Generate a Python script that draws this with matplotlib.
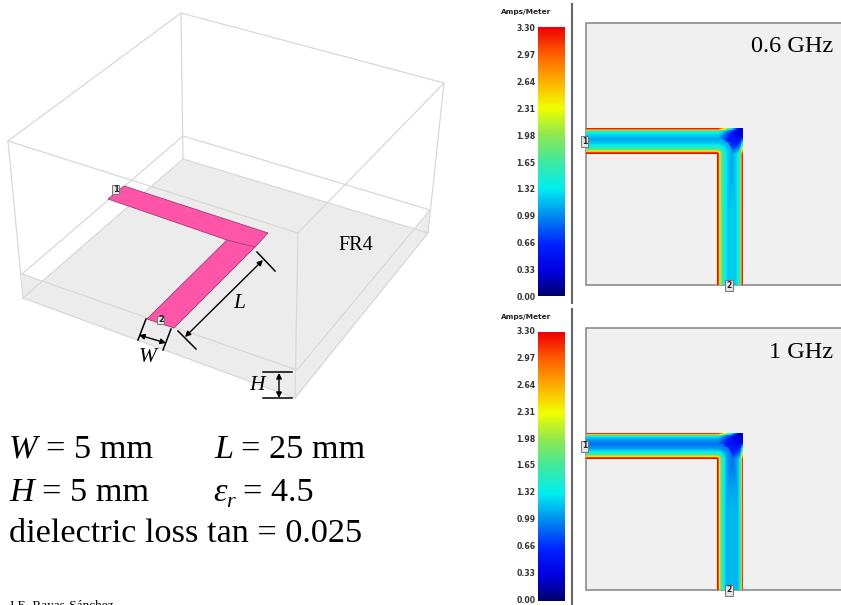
import numpy as np
import matplotlib
matplotlib.use("Agg")
import matplotlib.pyplot as plt
from matplotlib.colors import LinearSegmentedColormap

plt.rcParams['font.family'] = ['Liberation Serif', 'DejaVu Serif']

# colour scale
scale_labels = ["3.30", "2.97", "2.64", "2.31", "1.98", "1.65", "1.32", "0.99", "0.66", "0.33", "0.00"]
scale_max = 3.30
cmap_values = [0.0, 0.30, 0.62, 1.00, 1.32, 1.65, 1.98, 2.31, 2.64, 2.97, 3.30]
cmap_colors = ["#000070", "#0000e0", "#0020ff", "#0090f0", "#00f0f0", "#40e8a0",
               "#90e850", "#f0ff00", "#ffb000", "#ff6000", "#f00000"]

# current near the strip edges against distance from the edge (Amps/Meter)
edge_dist = [0.00, 0.05, 0.09, 0.15, 0.25, 0.40, 0.60]
outer_06 = [3.30, 3.05, 1.90, 1.45, 1.25, 1.10, 1.05]
inner_06 = [3.30, 3.20, 2.60, 1.90, 1.50, 1.22, 1.05]
outer_10 = [3.30, 2.80, 1.60, 1.25, 1.05, 0.90, 0.86]
inner_10 = [3.30, 3.20, 2.50, 1.80, 1.38, 1.05, 0.86]

# middle of each arm, far from the bend
centre_h = [1.05, 0.86]
centre_v = [1.20, 1.14]

# middle of the strip against distance from the outer corner
bend_r = [0.00, 0.30, 0.60, 1.00, 1.50, 2.20, 3.20]
bend_scale = [0.15, 0.30, 0.50, 0.70, 0.84, 0.94, 1.00]

# 3D box corners (pixels of the picture)
top_face = [(8, 141), (181, 13), (444, 83), (298, 233)]
mid_face = [(22, 274), (183, 136), (430, 210), (297, 370)]
floor_face = [(23, 298), (183, 159), (428, 233), (295, 398)]
strip_outline = [(108, 199), (124, 186), (268, 233), (255, 247), (174, 328), (147, 319), (227, 240)]

# field panels
panel_names = ["0.6 GHz", "1 GHz"]

fig = plt.figure(figsize=(8.41, 6.05), dpi=100)
ax = fig.add_axes([0, 0, 1, 1])
ax.set_xlim(0, 841)
ax.set_ylim(605, 0)
ax.axis('off')

box_col = "#d8d8d8"
ax.fill([p[0] for p in floor_face], [p[1] for p in floor_face], color="#ececec", lw=0, zorder=1)
front_side = [mid_face[0], mid_face[3], mid_face[2], floor_face[2], floor_face[3], floor_face[0]]
ax.fill([p[0] for p in front_side], [p[1] for p in front_side], color="#ececec", lw=0, zorder=1)
for face in [top_face, mid_face, floor_face]:
    xs = [p[0] for p in face] + [face[0][0]]
    ys = [p[1] for p in face] + [face[0][1]]
    ax.plot(xs, ys, color=box_col, lw=0.9, zorder=2)
for a, b in zip(top_face, floor_face):
    ax.plot([a[0], b[0]], [a[1], b[1]], color=box_col, lw=0.9, zorder=2)

ax.fill([p[0] for p in strip_outline], [p[1] for p in strip_outline], facecolor="#ff55a8",
        edgecolor="#a03a70", lw=0.6, zorder=3)
ax.plot([227, 255], [240, 247], color="#a03a70", lw=0.6, zorder=3)


def port_tag(x, y, s, size=6, w=8, h=10):
    ax.add_patch(plt.Rectangle((x - w / 2, y - h / 2), w, h, facecolor="#e4e4e4",
                               edgecolor="#777777", lw=0.7, zorder=6))
    ax.text(x, y, s, fontsize=size, ha='center', va='center', family='DejaVu Sans',
            weight='bold', color="#222222", zorder=7)


port_tag(116, 189, "1", w=7, h=9)
port_tag(161, 320, "2", w=7, h=8)


# dimension marks
def dim_arrow(p, q):
    ax.annotate("", xy=q, xytext=p, zorder=5,
                arrowprops=dict(arrowstyle='<|-|>', color='black', lw=1.0,
                                mutation_scale=8, shrinkA=0, shrinkB=0))


for seg in [[(257, 252), (275, 271)], [(178, 331), (196, 349)],
            [(146, 319), (138, 340)], [(171, 329), (163, 350)],
            [(263, 372), (292, 372)], [(263, 398), (292, 398)]]:
    ax.plot([seg[0][0], seg[1][0]], [seg[0][1], seg[1][1]], color='black', lw=1.1, zorder=5)
dim_arrow((185, 337), (263, 260))
dim_arrow((139, 335), (166, 343))
dim_arrow((279, 373), (279, 398))

ax.text(239, 303, "L", fontsize=15.5, style='italic', ha='center', va='center')
ax.text(148, 357, "W", fontsize=15.5, style='italic', ha='center', va='center')
ax.text(257, 385, "H", fontsize=15.5, style='italic', ha='center', va='center')
ax.text(356, 246, "FR4", fontsize=14.5, ha='center', va='center')

# parameters
size = 24.7
ax.text(9, 458, "W", fontsize=size, style='italic', ha='left', va='baseline')
ax.text(46, 458, "= 5 mm", fontsize=size, ha='left', va='baseline')
ax.text(214, 458, "L", fontsize=size, style='italic', ha='left', va='baseline')
ax.text(241, 458, "= 25 mm", fontsize=size, ha='left', va='baseline')
ax.text(9, 501, "H", fontsize=size, style='italic', ha='left', va='baseline')
ax.text(42, 501, "= 5 mm", fontsize=size, ha='left', va='baseline')
ax.text(213, 501, "ε", fontsize=size, style='italic', ha='left', va='baseline')
ax.text(226, 507, "r", fontsize=16, style='italic', ha='left', va='baseline')
ax.text(243, 501, "= 4.5", fontsize=size, ha='left', va='baseline')
ax.text(9, 542, "dielectric loss tan = 0.025", fontsize=size, ha='left', va='baseline')
ax.text(9, 609, "J.E. Rayas-Sánchez", fontsize=9.5, ha='left', va='baseline', clip_on=True)

jet_like = LinearSegmentedColormap.from_list(
    "field", [(v / scale_max, c) for v, c in zip(cmap_values, cmap_colors)], N=512)


def field_image(x0, x1, y0, y1, hx1, outer, inner, c_h, c_v):
    # strip current on a pixel grid, taken from the distance to each edge
    xs = np.arange(x0, x1) + 0.5
    ys = np.arange(y0, y1) + 0.5
    X, Y = np.meshgrid(xs, ys)
    hy0 = y0 + 105
    width = 26.0
    dy = (Y - hy0) / width
    dx = (hx1 - X) / width
    mask = ~(((dy >= 0) & (dy <= 1) & (X <= hx1)) | ((dx >= 0) & (dx <= 1) & (Y >= hy0)))

    # distance to the inner edge, round the inner corner
    gy = 1 - dy
    gx = 1 - dx
    d_in = np.abs(np.where((gy > 0) & (gx > 0), np.hypot(gy, gx), np.where(gx > 0, gx, gy)))

    # middle of the strip, darker towards the outer corner
    w = np.clip((dx - dy) / 2 + 0.5, 0, 1)
    r_out = np.hypot(np.clip(dx, 0, None), np.clip(dy, 0, None))
    base = (c_h * w + c_v * (1 - w)) * np.interp(r_out, bend_r, bend_scale)

    in_term = np.where(d_in > 0.6, 0, np.interp(d_in, edge_dist, inner))
    top = np.where(dy > 0.6, 0, np.interp(dy, edge_dist, outer)) * np.clip((dx - 0.05) / 0.9, 0, 1)
    right = np.where(dx > 0.6, 0, np.interp(dx, edge_dist, outer)) * np.clip((dy - 0.25) / 0.75, 0, 1)

    field = np.maximum(np.maximum(base, in_term), np.maximum(top, right))
    return np.ma.array(field, mask=mask), (x0, x1, y1, y0)


panels = [(0, outer_06, inner_06), (305, outer_10, inner_10)]
label_offset = [0, 303]
for i, (off, outer, inner) in enumerate(panels):
    # colour bar
    bar = np.linspace(scale_max, 0, 270).reshape(-1, 1)
    ax.imshow(bar, cmap=jet_like, vmin=0, vmax=scale_max, aspect='auto',
              extent=(538.5, 565.5, 296 + off, 27 + off), zorder=3)
    for k, lab in enumerate(scale_labels):
        ax.text(535.5, 28.5 + 26.9 * k + label_offset[i], lab, fontsize=5.6, family='DejaVu Sans',
                weight='bold', color="#333333", ha='right', va='center')
    ax.text(526, 12 + off, "Amps/Meter", fontsize=5.3,
            family='DejaVu Sans', weight='bold', color="#222222", ha='center', va='center')
    ax.plot([572.5, 572.5], [4 + off, 303 if i == 0 else 605], color="#666666", lw=1.5, zorder=3)

    # panel
    ax.add_patch(plt.Rectangle((586, 23 + off), 260, 262, facecolor="#f0f0f0",
                               edgecolor="#8c8c8c", lw=1.2, zorder=2))
    img, ext = field_image(586, 744, 23 + off, 285 + off, 743, outer, inner, centre_h[i], centre_v[i])
    ax.imshow(img, cmap=jet_like, vmin=0, vmax=scale_max, aspect='auto', extent=ext,
              interpolation='bilinear', zorder=3)
    port_tag(585, 141 + off, "1", size=5.5, w=7, h=11)
    port_tag(729, 285 + off, "2", size=5.5, w=8, h=11)
    ax.text(833, 47 + off, panel_names[i], fontsize=17.5, ha='right', va='center', zorder=8)

ax.set_xlim(0, 841)
ax.set_ylim(605, 0)
fig.savefig("out.png", dpi=100, facecolor='white')
